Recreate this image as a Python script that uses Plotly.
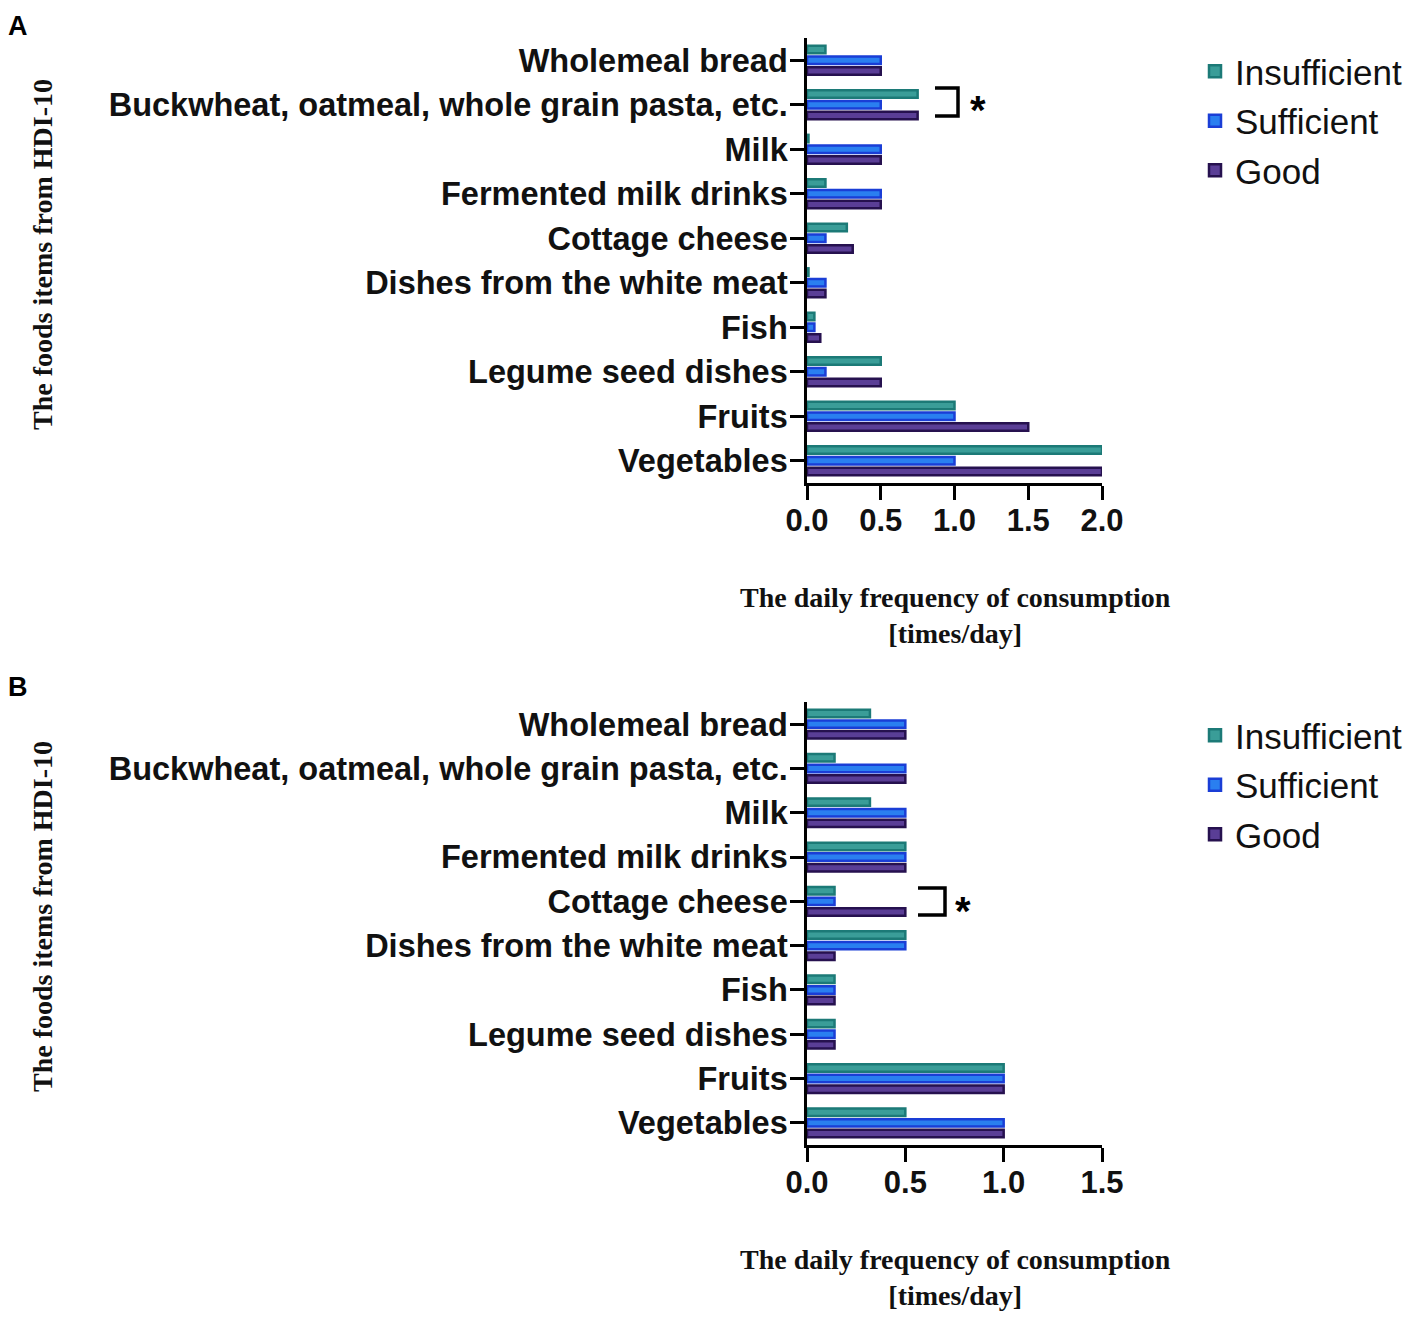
import plotly.graph_objects as go

categories = ["Wholemeal bread", "Buckwheat, oatmeal, whole grain pasta, etc.", "Milk",
              "Fermented milk drinks", "Cottage cheese", "Dishes from the white meat",
              "Fish", "Legume seed dishes", "Fruits", "Vegetables"]
series_names = ["Insufficient", "Sufficient", "Good"]

a_insufficient = [0.125, 0.75, 0.01, 0.125, 0.27, 0.01, 0.05, 0.5, 1.0, 2.0]
a_sufficient = [0.5, 0.5, 0.5, 0.5, 0.125, 0.125, 0.05, 0.125, 1.0, 1.0]
a_good = [0.5, 0.75, 0.5, 0.5, 0.31, 0.125, 0.09, 0.5, 1.5, 2.0]

b_insufficient = [0.32, 0.14, 0.32, 0.5, 0.14, 0.5, 0.14, 0.14, 1.0, 0.5]
b_sufficient = [0.5, 0.5, 0.5, 0.5, 0.14, 0.5, 0.14, 0.14, 1.0, 1.0]
b_good = [0.5, 0.5, 0.5, 0.5, 0.5, 0.14, 0.14, 0.14, 1.0, 1.0]

a_ticks = [0.0, 0.5, 1.0, 1.5, 2.0]
b_ticks = [0.0, 0.5, 1.0, 1.5]

line_colors = ["#1c7a77", "#1a3ed6", "#26114f"]
fill_colors = ["#3a9d98", "#2a7ff0", "#5a3e96"]

W, H = 1417, 1318
OFF = 8  # page body margin
fig = go.Figure()

panels = [
    ("x", "y", "legend", [a_insufficient, a_sufficient, a_good]),
    ("x2", "y2", "legend2", [b_insufficient, b_sufficient, b_good]),
]
for xa, ya, lg, vals in panels:
    for i, name in enumerate(series_names):
        fig.add_trace(go.Bar(
            y=categories, x=vals[i], name=name, orientation="h",
            xaxis=xa, yaxis=ya, legend=lg, legendgroup=name + lg,
            marker=dict(color=fill_colors[i], line=dict(color=line_colors[i], width=2.5)),
        ))

def px_x(p):
    return (p - OFF) / W

def px_y(p):
    return 1 - (p - OFF) / H

xtickfont = dict(family="Liberation Sans, Arial", size=31, color="#111", weight="bold")
ytickfont = dict(family="Liberation Sans, Arial", size=32.5, color="#111", weight="bold")
axis_common = dict(showline=True, linecolor="black", linewidth=2.5, ticks="outside",
                   ticklen=14, tickwidth=2.5, tickcolor="black", showgrid=False,
                   zeroline=False, automargin=False)

fig.update_layout(
    width=W, height=H, margin=dict(l=0, r=0, t=0, b=0),
    paper_bgcolor="white", plot_bgcolor="white",
    barmode="group", bargap=0.28, bargroupgap=0.3,
    xaxis=dict(domain=[px_x(807), px_x(1102)], anchor="y", range=[0, 2.0],
               tickvals=a_ticks, ticktext=[f"{t:.1f}" for t in a_ticks],
               tickfont=xtickfont, ticklabelstandoff=-6, **axis_common),
    yaxis=dict(domain=[px_y(483), px_y(38)], anchor="x", autorange="reversed",
               tickfont=ytickfont, ticklabelstandoff=-4, **axis_common),
    xaxis2=dict(domain=[px_x(807), px_x(1102)], anchor="y2", range=[0, 1.5],
                tickvals=b_ticks, ticktext=[f"{t:.1f}" for t in b_ticks],
                tickfont=xtickfont, ticklabelstandoff=-6, **axis_common),
    yaxis2=dict(domain=[px_y(1145), px_y(702)], anchor="x2", autorange="reversed",
                tickfont=ytickfont, ticklabelstandoff=-4, **axis_common),
    legend=dict(x=px_x(1195), y=px_y(42), xanchor="left", yanchor="top",
                font=dict(family="Liberation Sans, Arial", size=35, color="#111"),
                tracegroupgap=1, bgcolor="rgba(0,0,0,0)"),
    legend2=dict(x=px_x(1195), y=px_y(706), xanchor="left", yanchor="top",
                 font=dict(family="Liberation Sans, Arial", size=35, color="#111"),
                 tracegroupgap=1, bgcolor="rgba(0,0,0,0)"),
)

title_font = dict(family="Liberation Serif, Times New Roman", size=28, color="#111", weight="bold")
annots = []
for xt_y, yt_c in [(598, 255), (1260, 917)]:
    annots.append(dict(text="The daily frequency of consumption<br>[times/day]", x=px_x(955),
                       y=px_y(xt_y - 18), xref="paper", yref="paper", showarrow=False,
                       xanchor="center", yanchor="top", font=title_font, align="center"))
    annots.append(dict(text="The foods items from HDI-10", x=px_x(42), y=px_y(yt_c),
                       xref="paper", yref="paper", showarrow=False, textangle=-90,
                       xanchor="center", yanchor="middle", font=title_font))
panel_font = dict(family="Liberation Sans, Arial", size=27, color="black", weight="bold")
annots.append(dict(text="A", x=px_x(6), y=px_y(9), xref="paper", yref="paper", showarrow=False,
                   xanchor="left", yanchor="top", font=panel_font))
annots.append(dict(text="B", x=px_x(6), y=px_y(670), xref="paper", yref="paper", showarrow=False,
                   xanchor="left", yanchor="top", font=panel_font))
star_font = dict(family="Liberation Sans, Arial", size=40, color="black", weight="bold")
annots.append(dict(text="*", x=px_x(978), y=px_y(110), xref="paper", yref="paper", showarrow=False,
                   xanchor="center", yanchor="middle", font=star_font))
annots.append(dict(text="*", x=px_x(963), y=px_y(911), xref="paper", yref="paper", showarrow=False,
                   xanchor="center", yanchor="middle", font=star_font))
fig.update_layout(annotations=annots)

shapes = [
    dict(type="path", xref="paper", yref="paper", line=dict(color="black", width=3.5),
         path=f"M {px_x(935)},{px_y(88)} L {px_x(958)},{px_y(88)} L {px_x(958)},{px_y(116)} L {px_x(935)},{px_y(116)}"),
    dict(type="path", xref="paper", yref="paper", line=dict(color="black", width=3.5),
         path=f"M {px_x(918)},{px_y(888)} L {px_x(945)},{px_y(888)} L {px_x(945)},{px_y(915)} L {px_x(918)},{px_y(915)}"),
]
fig.update_layout(shapes=shapes)

fig.write_html("out.html")
